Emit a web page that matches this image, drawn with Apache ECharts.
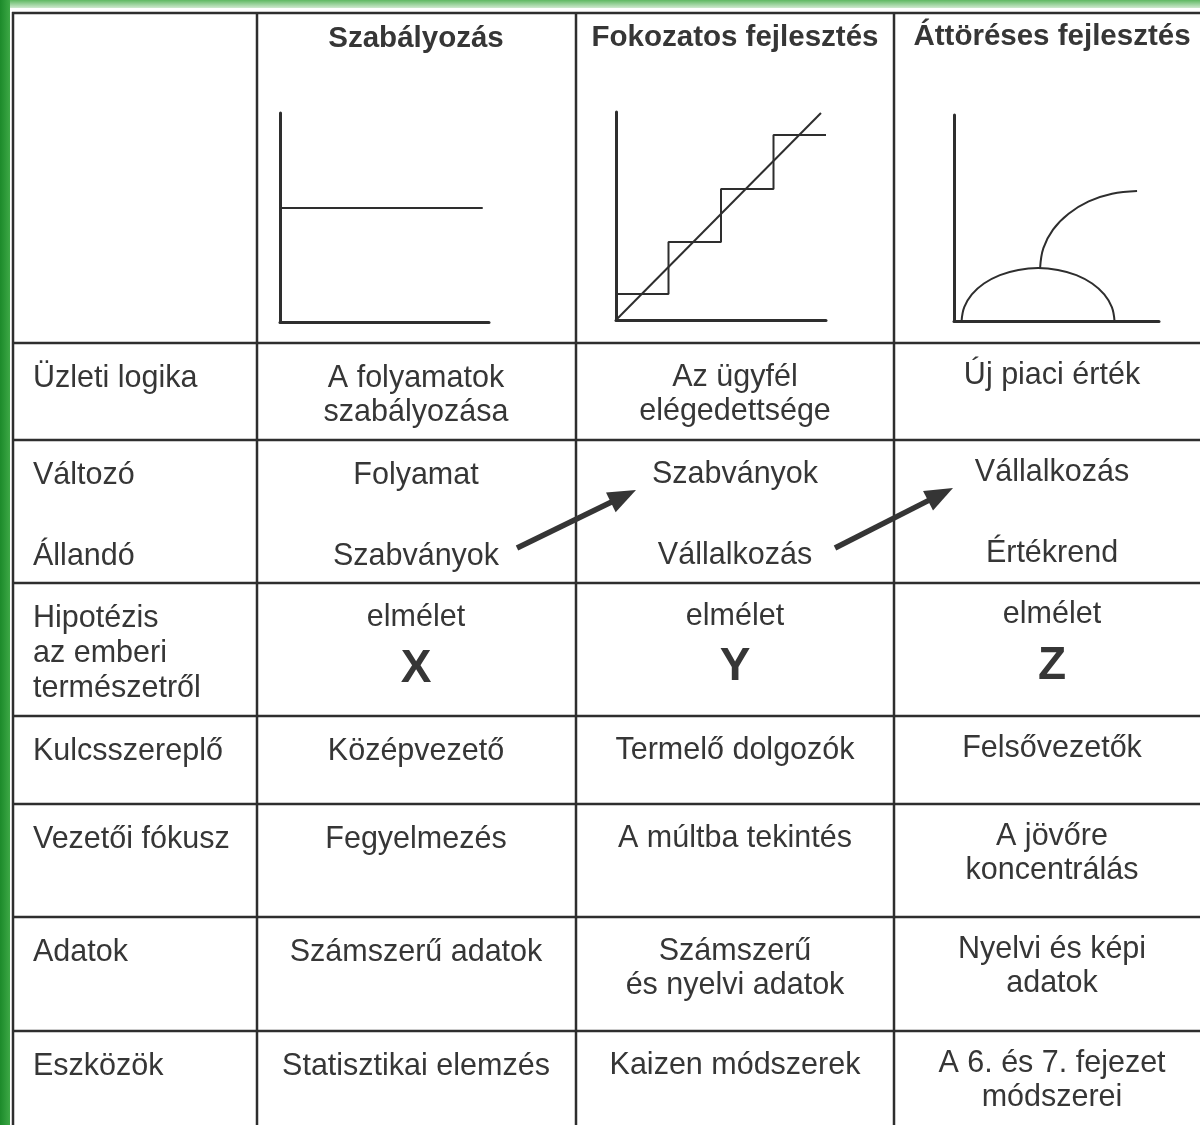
<!DOCTYPE html>
<html lang="hu">
<head>
<meta charset="utf-8">
<script src="https://cdn.jsdelivr.net/npm/echarts@6/dist/echarts.min.js"></script>
<style>
  html, body { margin: 0; padding: 0; background: #ffffff; }
  #tabla { width: 1200px; height: 1125px; }
</style>
</head>
<body>
<div id="tabla"></div>
<script>
// Fejlécek, sorcímkék és cellák szövege
const oszlopFejlecek = ['Szabályozás', 'Fokozatos fejlesztés', 'Áttöréses fejlesztés'];
const sorCimkek = [
  ['Üzleti logika'], ['Változó', 'Állandó'], ['Hipotézis', 'az emberi', 'természetről'],
  ['Kulcsszereplő'], ['Vezetői fókusz'], ['Adatok'], ['Eszközök']
];
const szabalyozasCellak = [
  ['A folyamatok', 'szabályozása'], ['Folyamat', 'Szabványok'], ['elmélet', 'X'],
  ['Középvezető'], ['Fegyelmezés'], ['Számszerű adatok'], ['Statisztikai elemzés']
];
const fokozatosCellak = [
  ['Az ügyfél', 'elégedettsége'], ['Szabványok', 'Vállalkozás'], ['elmélet', 'Y'],
  ['Termelő dolgozók'], ['A múltba tekintés'], ['Számszerű', 'és nyelvi adatok'], ['Kaizen módszerek']
];
const attoresesCellak = [
  ['Új piaci érték'], ['Vállalkozás', 'Értékrend'], ['elmélet', 'Z'],
  ['Felsővezetők'], ['A jövőre', 'koncentrálás'], ['Nyelvi és képi', 'adatok'], ['A 6. és 7. fejezet', 'módszerei']
];

// Kis grafikonok adatai (0-100 skálán)
const szabalyozasVonal = [[0, 54.5], [97, 54.5]];
const fokozatosEgyenes = [[0, 0], [97.6, 99.5]];
const fokozatosLepcso = [[0, 12.5], [25, 12.5], [25, 37.5], [50, 37.5], [50, 63], [75, 63], [75, 89], [100, 89]];
const attoresIv = [[3.7, 0], [5, 6.7], [8.7, 12.9], [14.6, 18.2], [22.4, 22.3], [31.4, 24.8], [41, 25.7],
  [50.7, 24.8], [59.7, 22.3], [67.4, 18.2], [73.3, 12.9], [77, 6.7], [78.3, 0]];
const attoresUgras = [[42, 25.7], [43.6, 35.4], [48.3, 44.4], [55.9, 52.1], [65.7, 58.1], [77.1, 61.8], [89.3, 63.1]];

// Elrendezés
const vonalSzin = '#2e2e2e';
const szovegSzin = '#363636';
const betu = '"Liberation Sans", Arial, sans-serif';
const oszlopVonalak = [13, 257, 576, 894];
const sorVonalak = [13, 343, 440, 583, 716, 804, 917, 1031];
const oszlopKozep = [33, 416, 735, 1052];
const oszlopEltolas = [0, 0, -1.5, -3];
const sorKozok = [34, 81, 35, 34, 34, 34, 34];

var elemek = [];

// Zöld keret
elemek.push({ type: 'rect', shape: { x: 0, y: 0, width: 1200, height: 8 },
  style: { fill: new echarts.graphic.LinearGradient(0, 0, 0, 1, [{ offset: 0, color: '#5fb862' }, { offset: 1, color: '#cfe9cf' }]) } });
elemek.push({ type: 'rect', shape: { x: 0, y: 0, width: 10, height: 1125 },
  style: { fill: new echarts.graphic.LinearGradient(0, 0, 1, 0, [{ offset: 0, color: '#1c8a2a' }, { offset: 1, color: '#3da846' }]) } });

// Táblázat vonalai
sorVonalak.forEach(function (y) {
  elemek.push({ type: 'line', shape: { x1: 12, y1: y, x2: 1200, y2: y }, style: { stroke: vonalSzin, lineWidth: 2.5 } });
});
oszlopVonalak.forEach(function (x) {
  elemek.push({ type: 'line', shape: { x1: x, y1: 12, x2: x, y2: 1125 }, style: { stroke: vonalSzin, lineWidth: 2.5 } });
});

function szoveg(x, y, text, align, size, weight) {
  elemek.push({ type: 'text', silent: true, style: {
    x: x, y: y, text: text, fill: szovegSzin, fontFamily: betu, fontSize: size, fontWeight: weight,
    textAlign: align, textVerticalAlign: 'middle' } });
}

// Fejléc
oszlopFejlecek.forEach(function (t, i) {
  szoveg(oszlopKozep[i + 1], 39 + oszlopEltolas[i + 1] * 0.6, t, 'center', 29.5, 'bold');
});

// Cellák
var oszlopok = [sorCimkek, szabalyozasCellak, fokozatosCellak, attoresesCellak];
oszlopok.forEach(function (cellak, c) {
  cellak.forEach(function (sorok, r) {
    var top = sorVonalak[r + 1];
    sorok.forEach(function (t, k) {
      var nagy = (t.length === 1);
      var koz = (r === 2 && c > 0) ? 50 : sorKozok[r];
      var y = top + 36 + k * koz + oszlopEltolas[c];
      if (r === 2 && c > 0 && !nagy) y -= 1;
      szoveg(oszlopKozep[c], y, t, c === 0 ? 'left' : 'center', nagy ? 46 : 30.5, nagy ? 'bold' : 'normal');
    });
  });
});

// Nyilak
function nyil(x1, y1, x2, y2) {
  var dx = x2 - x1, dy = y2 - y1, len = Math.sqrt(dx * dx + dy * dy);
  var ux = dx / len, uy = dy / len, nx = -uy, ny = ux;
  var L = 28, W = 11;
  var bx = x2 - ux * L, by = y2 - uy * L;
  elemek.push({ type: 'line', shape: { x1: x1, y1: y1, x2: bx + ux * 3, y2: by + uy * 3 }, style: { stroke: '#353535', lineWidth: 5.5 } });
  elemek.push({ type: 'polygon', shape: { points: [[x2, y2], [bx + nx * W, by + ny * W], [bx - nx * W, by - ny * W]] }, style: { fill: '#353535' } });
}
nyil(517, 548, 636, 490);
nyil(835, 548, 953, 488);

// Kis grafikonok tengelyei
var racsok = [
  { left: 280, top: 113, width: 209, height: 209 },
  { left: 616, top: 112, width: 210, height: 208 },
  { left: 954, top: 115, width: 205, height: 206 }
];
function tengely(i) {
  return { type: 'value', gridIndex: i, min: 0, max: 100,
    axisLine: { show: true, lineStyle: { color: vonalSzin, width: 3 } },
    axisTick: { show: false }, axisLabel: { show: false }, splitLine: { show: false } };
}
function sorozat(i, adat) {
  return { type: 'line', xAxisIndex: i, yAxisIndex: i, data: adat, showSymbol: false, symbol: 'none',
    silent: true, lineStyle: { color: vonalSzin, width: 2 } };
}

var myChart = echarts.init(document.getElementById('tabla'), null, { renderer: 'canvas' });
var option = {
  backgroundColor: '#ffffff',
  animation: false,
  grid: racsok.map(function (g) { return Object.assign({ outerBoundsMode: 'none' }, g); }),
  xAxis: [tengely(0), tengely(1), tengely(2)],
  yAxis: [tengely(0), tengely(1), tengely(2)],
  series: [
    sorozat(0, szabalyozasVonal),
    sorozat(1, fokozatosEgyenes),
    sorozat(1, fokozatosLepcso),
    Object.assign(sorozat(2, attoresIv), { smooth: 0.4 }),
    Object.assign(sorozat(2, attoresUgras), { smooth: 0.4 })
  ],
  graphic: { elements: elemek }
};
myChart.setOption(option);
</script>
</body>
</html>
